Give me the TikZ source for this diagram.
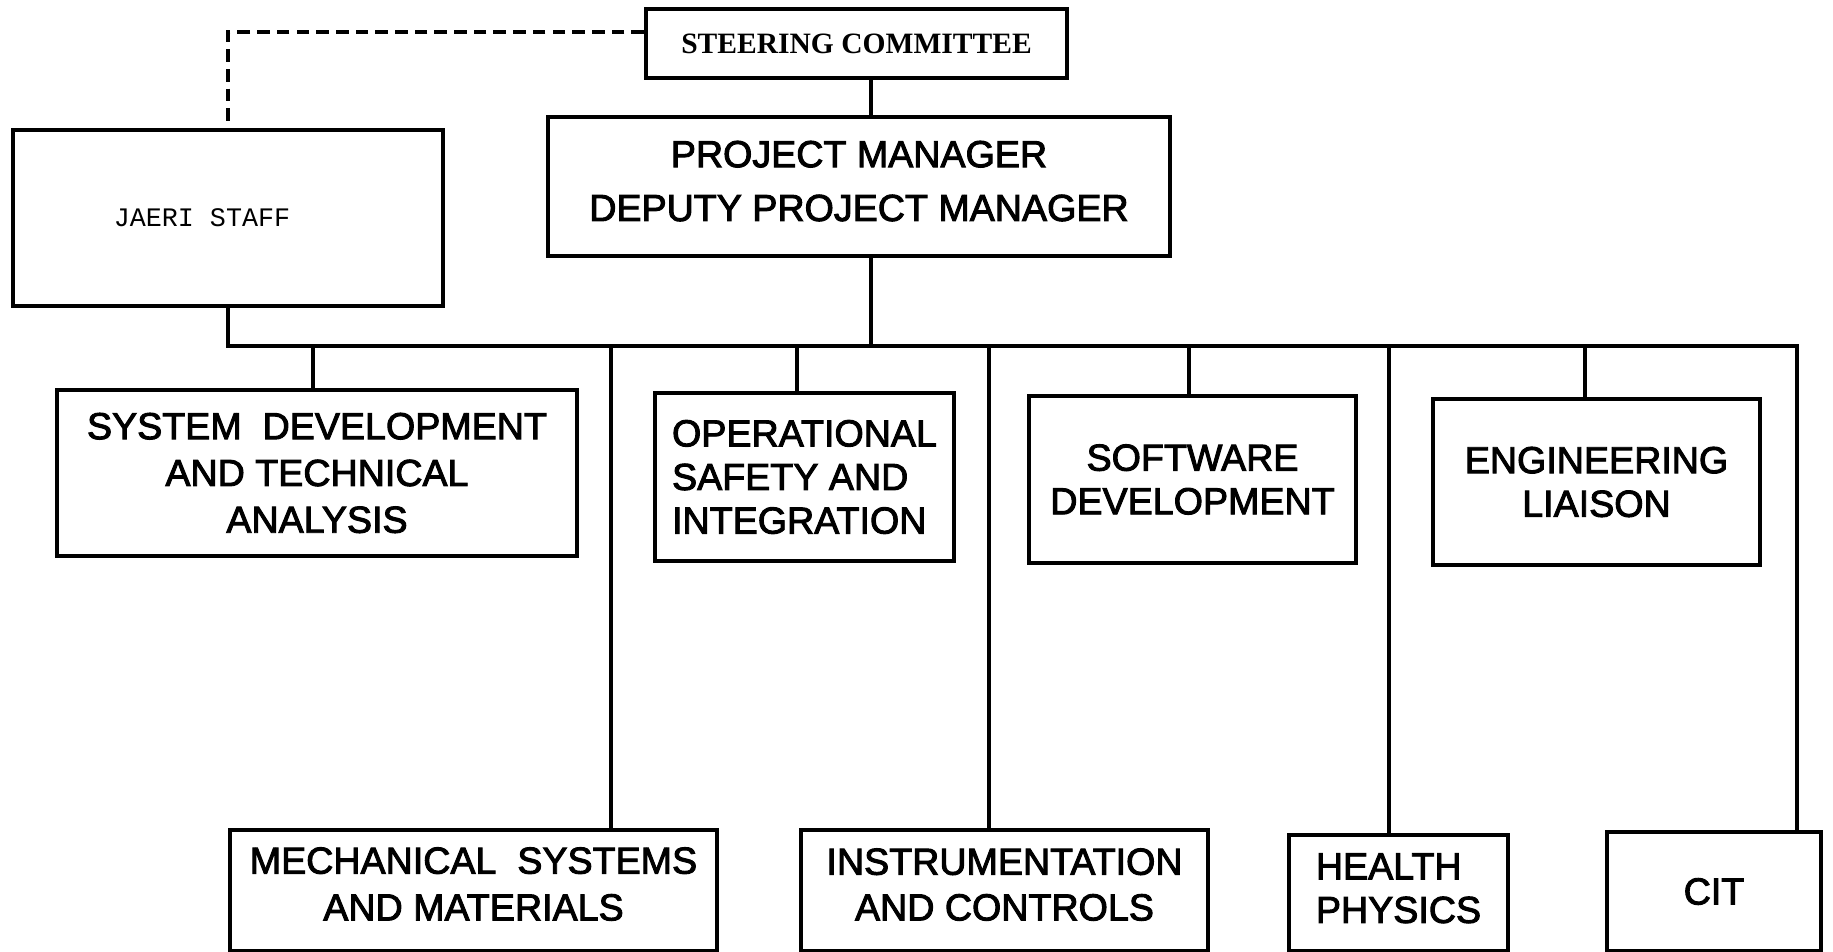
\documentclass[tikz,border=0pt]{standalone}
\usepackage{fontspec}
\setmainfont{Liberation Sans}[UprightFeatures={FakeBold=2.5}]
\newfontfamily\steerfont{Liberation Serif}
\newfontfamily\stafffont{Liberation Mono}
\usepackage{tikz}
\usetikzlibrary{positioning}

\begin{document}
\begin{tikzpicture}[x=0.01cm, y=-0.01cm,
  unit/.style={draw, line width=1.1pt, inner sep=0pt, align=center, font=\fontsize{10.7}{12.4}\selectfont},
  lowunit/.style={unit, text height=20pt, text depth=3pt},
  link/.style={line width=1.1pt}]

\useasboundingbox (0,0) rectangle (1833,951);

% top of the chart
\node[unit, minimum width=4.21cm, minimum height=0.69cm, font=\steerfont\bfseries\fontsize{8.4}{10}\selectfont] (steer) at (856.5,43.5) {STEERING COMMITTEE};
\node[unit, minimum width=6.22cm, minimum height=1.39cm, text height=22.6pt, text depth=3pt, font=\fontsize{10.7}{15.3}\selectfont] (pm) at (859,186.5) {PROJECT MANAGER\\DEPUTY PROJECT MANAGER};
\node[unit, minimum width=4.30cm, minimum height=1.76cm, label={[font=\stafffont\fontsize{7.6}{9}\selectfont, xshift=-7.4pt]center:JAERI STAFF}] (jaeri) at (228,218) {};

% first row
\node[unit, minimum width=5.20cm, minimum height=1.66cm, font=\fontsize{10.7}{13.3}\selectfont] (sysdev) at (317,473) {SYSTEM\ \ DEVELOPMENT\\AND TECHNICAL\\ANALYSIS};
\node[unit, align=left, minimum width=2.99cm, minimum height=1.68cm] (opsafe) at (804.5,477) {OPERATIONAL\\SAFETY AND\\INTEGRATION};
\node[unit, minimum width=3.27cm, minimum height=1.67cm] (soft) at (1192.5,479.5) {SOFTWARE\\DEVELOPMENT};
\node[unit, minimum width=3.27cm, minimum height=1.66cm] (eng) at (1596.5,482) {ENGINEERING\\LIAISON};

% second row
\node[lowunit, minimum width=4.87cm, minimum height=1.21cm, font=\fontsize{10.7}{13.3}\selectfont] (mech) at (473.5,890.5) {MECHANICAL\ \ SYSTEMS\\AND MATERIALS};
\node[lowunit, minimum width=4.07cm, minimum height=1.21cm, font=\fontsize{10.7}{13}\selectfont] (instr) at (1004.5,890.5) {INSTRUMENTATION\\AND CONTROLS};
\node[lowunit, align=left, minimum width=2.19cm, minimum height=1.16cm] (health) at (1398.5,893) {HEALTH\\PHYSICS};
\node[unit, minimum width=2.14cm, minimum height=1.19cm] (cit) at (1714,891.5) {CIT};

% connectors
\coordinate (spine) at (871,346);
\coordinate (busend) at (1797,346);
\coordinate (dashtop) at (0,32);
\coordinate (tapsys) at (313,346);
\coordinate (tapops) at (797,346);
\coordinate (tapsoft) at (1189,346);
\coordinate (tapeng) at (1585,346);
\coordinate (tapmech) at (611,346);
\coordinate (tapinstr) at (989,346);
\coordinate (taphealth) at (1389,346);

\draw[link] (steer.south -| spine) -- (pm.north -| spine);
\draw[link] (pm.south -| spine) -- (spine);
\draw[link] (jaeri.south) |- (busend) -- (busend |- cit.north);
\draw[link, dash pattern=on 3.6pt off 2pt] (steer.west |- dashtop) -| (jaeri.north);

\draw[link] (tapsys) -- (tapsys |- sysdev.north);
\draw[link] (tapops) -- (tapops |- opsafe.north);
\draw[link] (tapsoft) -- (tapsoft |- soft.north);
\draw[link] (tapeng) -- (tapeng |- eng.north);

\draw[link] (tapmech) -- (tapmech |- mech.north);
\draw[link] (tapinstr) -- (tapinstr |- instr.north);
\draw[link] (taphealth) -- (taphealth |- health.north);

\end{tikzpicture}
\end{document}
